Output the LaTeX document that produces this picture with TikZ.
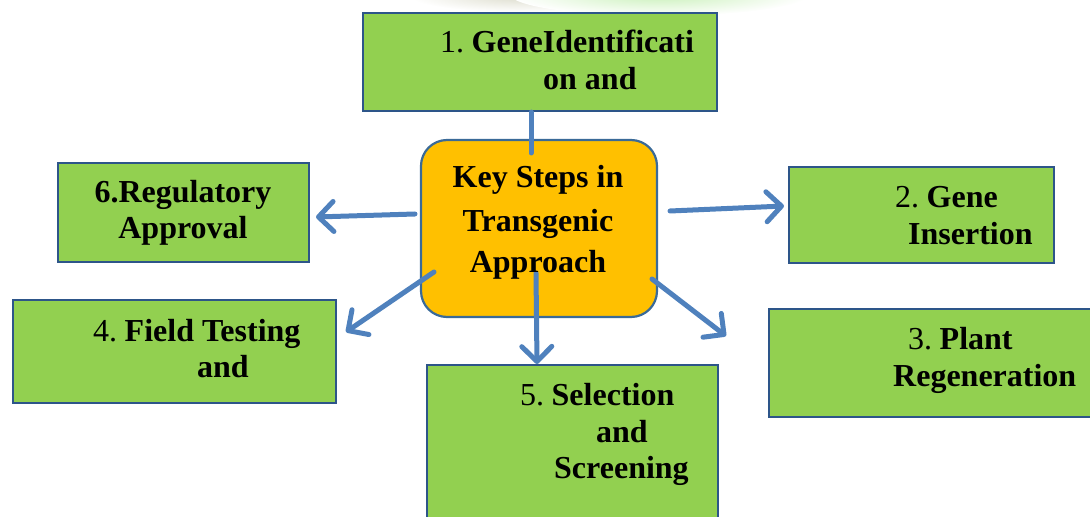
\documentclass[tikz,border=0pt]{standalone}
\usepackage{fontspec}
\setmainfont{Liberation Serif}
\usetikzlibrary{arrows.meta}
\definecolor{stepgreen}{HTML}{92D050}
\definecolor{hubgold}{HTML}{FFC000}
\definecolor{edgeblue}{HTML}{2D5589}
\definecolor{hubedge}{HTML}{3A6A98}
\definecolor{linkblue}{HTML}{4F81BD}
\definecolor{glowgreen}{HTML}{C8F0B8}
\definecolor{glowgrey}{HTML}{DCDCCC}
\newcommand{\numgap}{\hspace{7.5bp}}
\begin{document}
\begin{tikzpicture}[x=1bp,y=-1bp,
  stepbox/.style={draw=edgeblue,fill=stepgreen,line width=2.2bp,rectangle,inner sep=0pt},
  hubbox/.style={draw=hubedge,fill=hubgold,line width=2.2bp,rectangle,rounded corners=26bp,inner sep=0pt},
  txt/.style={font=\fontsize{32bp}{37bp}\selectfont\bfseries,anchor=base west,inner sep=0pt,text=black},
  hubtxt/.style={txt,anchor=base},
  link/.style={draw=linkblue,line width=5bp,line cap=round},
  arr/.style={link,-{Straight Barb[length=15bp,width=30bp,round]}}]
\useasboundingbox (0,0) rectangle (1090,517);
\clip (0,0) rectangle (1090,517);

% soft glow along the top edge
\shade[inner color=glowgrey, outer color=white] (520,-4) ellipse (110 and 16);
\shade[inner color=glowgreen, outer color=white] (660,-6) ellipse (150 and 22);

% step boxes
\node[stepbox,minimum width=354bp,minimum height=98bp] (b1) at (540,62) {};
\node[stepbox,minimum width=251bp,minimum height=99bp] (b6) at (183.5,212.5) {};
\node[stepbox,minimum width=265bp,minimum height=96bp] (b2) at (921.5,215) {};
\node[stepbox,minimum width=323bp,minimum height=103bp] (b4) at (174.5,351.5) {};
\node[stepbox,minimum width=326bp,minimum height=108bp] (b3) at (932,363) {};
\node[stepbox,minimum width=291bp,minimum height=160bp] (b5) at (572.5,445) {};

% central hub
\node[hubbox,minimum width=236bp,minimum height=177bp] (hub) at (539,228.5) {};

% connectors
\coordinate (t1) at (531,153);
\coordinate (s6) at (415,214);
\coordinate (e6) at (316,217);
\coordinate (s2) at (670,211);
\coordinate (e2) at (784,206);
\coordinate (s4) at (434,272);
\coordinate (e4) at (346,332);
\coordinate (s5) at (536,273);
\coordinate (e5) at (537,364);
\coordinate (s3) at (652,279);
\coordinate (e3) at (726,336);
\draw[link] (b1.south -| t1) -- (t1);
\draw[arr] (s6) -- (e6);
\draw[arr] (s2) -- (e2);
\draw[arr] (s4) -- (e4);
\draw[arr] (s5) -- (e5);
\draw[arr] (s3) -- (e3);

% labels
\node[txt] (l1a) at (440,53) {\mdseries 1.\numgap\bfseries GeneIdentificati};
\node[txt] (l1b) at (543,90) {on and};
\node[hubtxt] (h1) at (538,188) {Key Steps in};
\node[hubtxt] (h2) at (538,232) {Transgenic};
\node[hubtxt] (h3) at (538,273) {Approach};
\node[hubtxt] (l6a) at (183,203) {6.Regulatory};
\node[hubtxt] (l6b) at (183,239) {Approval};
\node[txt] (l2a) at (895,208) {\mdseries 2.\numgap\bfseries Gene};
\node[txt] (l2b) at (908,245) {Insertion};
\node[txt] (l4a) at (93,342) {\mdseries 4.\numgap\bfseries Field Testing};
\node[txt] (l4b) at (197,378) {and};
\node[txt] (l3a) at (908,350) {\mdseries 3.\numgap\bfseries Plant};
\node[txt] (l3b) at (893,387) {Regeneration};
\node[txt] (l5a) at (520,405) {\mdseries 5.\numgap\bfseries Selection};
\node[txt] (l5b) at (596,442) {and};
\node[txt] (l5c) at (554,478) {Screening};
\end{tikzpicture}
\end{document}
